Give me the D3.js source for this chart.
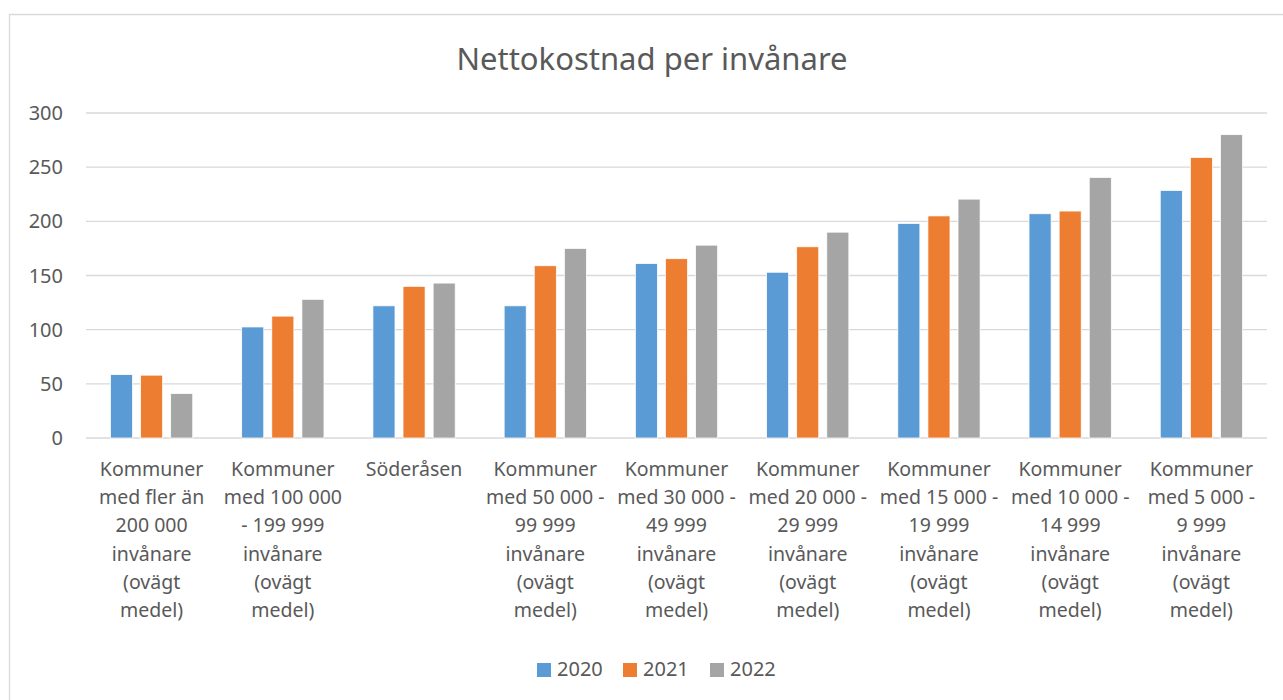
<!DOCTYPE html>
<html lang="sv">
<head>
<meta charset="UTF-8">
<title>Nettokostnad per invånare</title>
<style>
    body { margin: 0; background: #fff; }
    svg text { font-family: "Noto Sans", "Open Sans", sans-serif; fill: #595959; }
</style>
</head>
<body>
<div id="chart"></div>
<script src="https://d3js.org/d3.v7.min.js"></script>
<script>
// category labels, split into lines as in the original chart
var categories = [
    ["Kommuner", "med fler än", "200 000", "invånare", "(ovägt", "medel)"],
    ["Kommuner", "med 100 000", "- 199 999", "invånare", "(ovägt", "medel)"],
    ["Söderåsen"],
    ["Kommuner", "med 50 000 -", "99 999", "invånare", "(ovägt", "medel)"],
    ["Kommuner", "med 30 000 -", "49 999", "invånare", "(ovägt", "medel)"],
    ["Kommuner", "med 20 000 -", "29 999", "invånare", "(ovägt", "medel)"],
    ["Kommuner", "med 15 000 -", "19 999", "invånare", "(ovägt", "medel)"],
    ["Kommuner", "med 10 000 -", "14 999", "invånare", "(ovägt", "medel)"],
    ["Kommuner", "med 5 000 -", "9 999", "invånare", "(ovägt", "medel)"]
];
var years = ["2020", "2021", "2022"];
var values2020 = [58.5, 102.5, 122, 122, 161, 153, 198, 207, 228.5];
var values2021 = [58, 112.5, 140, 159, 165.5, 176.5, 205, 209.5, 259];
var values2022 = [41, 128, 143, 175, 178, 190, 220.5, 240.5, 280];
var yTicks = [0, 50, 100, 150, 200, 250, 300];
var colors = ["#5b9bd5", "#ed7d31", "#a5a5a5"];

var series = [values2020, values2021, values2022];
var width = 1283, height = 700;
var plotLeft = 86, plotRight = 1267, plotTop = 113, plotBottom = 438;

var svg = d3.select("#chart").append("svg")
    .attr("width", width)
    .attr("height", height);

// outer chart border
svg.append("path")
    .attr("d", "M9.5,700 V14.5 H1283")
    .attr("fill", "none")
    .attr("stroke", "#d9d9d9")
    .attr("stroke-width", 1.3);

svg.append("text")
    .attr("x", 652)
    .attr("y", 70)
    .attr("text-anchor", "middle")
    .style("font-size", "31px")
    .text("Nettokostnad per invånare");

var y = d3.scaleLinear().domain([0, 300]).range([plotBottom, plotTop]);
var x0 = d3.scaleBand()
    .domain(d3.range(categories.length))
    .range([plotLeft, plotRight])
    .paddingInner(0.373)
    .paddingOuter(0.1865);
var x1 = d3.scaleBand()
    .domain(years)
    .range([0, x0.bandwidth()])
    .paddingInner(0.267);

// gridlines
svg.append("g").selectAll("line")
    .data(yTicks)
    .enter().append("line")
    .attr("x1", plotLeft).attr("x2", plotRight)
    .attr("y1", function(d) { return y(d); })
    .attr("y2", function(d) { return y(d); })
    .attr("stroke", "#d9d9d9")
    .attr("stroke-width", 1.3);

svg.append("g").selectAll("text")
    .data(yTicks)
    .enter().append("text")
    .attr("x", 63)
    .attr("y", function(d) { return y(d); })
    .attr("dy", "0.35em")
    .attr("text-anchor", "end")
    .style("font-size", "20px")
    .text(function(d) { return d; });

// bars
var groups = svg.append("g").selectAll("g")
    .data(categories)
    .enter().append("g")
    .attr("transform", function(d, i) { return "translate(" + x0(i) + ",0)"; });

groups.selectAll("rect")
    .data(function(d, i) {
        return years.map(function(yr, k) { return {year: yr, k: k, value: series[k][i]}; });
    })
    .enter().append("rect")
    .attr("x", function(d) { return x1(d.year); })
    .attr("y", function(d) { return y(d.value); })
    .attr("width", x1.bandwidth())
    .attr("height", function(d) { return y(0) - y(d.value); })
    .attr("fill", function(d) { return colors[d.k]; })
    .attr("stroke", "#fff")
    .attr("stroke-width", 0.75);

// category labels
groups.append("text")
    .attr("text-anchor", "middle")
    .style("font-size", "19.5px")
    .selectAll("tspan")
    .data(function(d) { return d; })
    .enter().append("tspan")
    .attr("x", x0.bandwidth() / 2)
    .attr("y", function(d, i) { return 476 + i * 28.2; })
    .text(function(d) { return d; });

// legend
var legendX = [537, 623, 710];
var legend = svg.append("g").selectAll("g")
    .data(years)
    .enter().append("g")
    .attr("transform", function(d, i) { return "translate(" + legendX[i] + ",663)"; });

legend.append("rect")
    .attr("width", 14)
    .attr("height", 14)
    .attr("fill", function(d, i) { return colors[i]; });

legend.append("text")
    .attr("x", 20)
    .attr("y", 13)
    .style("font-size", "20px")
    .text(function(d) { return d; });
</script>
</body>
</html>
